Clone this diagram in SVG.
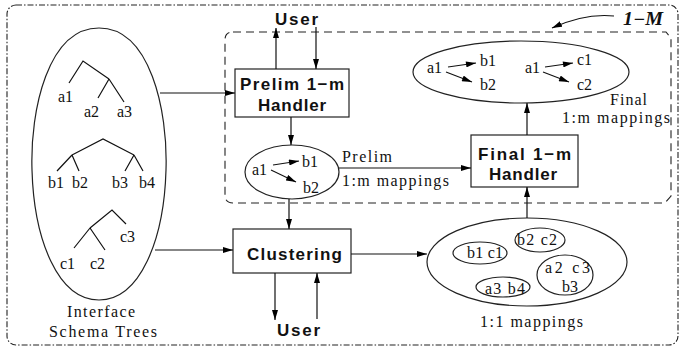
<svg xmlns="http://www.w3.org/2000/svg" width="681" height="348" viewBox="0 0 681 348">
  <defs>
    <marker id="arrow" viewBox="0 0 10 6" refX="10" refY="3" markerWidth="10" markerHeight="6" markerUnits="userSpaceOnUse" orient="auto">
      <path d="M0,0 L10,3 L0,6 z" fill="#000"/>
    </marker>
    <marker id="arrow-small" viewBox="0 0 10 6" refX="10" refY="3" markerWidth="11" markerHeight="6" markerUnits="userSpaceOnUse" orient="auto">
      <path d="M0,0 L10,3 L0,6 z" fill="#000"/>
    </marker>
  </defs>
  <style>
    .frame { fill: none; stroke: #222; stroke-width: 1.1; stroke-dasharray: 6 2 1.5 2; }
    .group { fill: none; stroke: #222; stroke-width: 1.1; stroke-dasharray: 8 5; }
    .box { fill: #fff; stroke: #222; stroke-width: 1.2; }
    .oval { fill: none; stroke: #222; stroke-width: 1.2; }
    .tree { fill: none; stroke: #111; stroke-width: 1.2; }
    .edge { fill: none; stroke: #111; stroke-width: 1.2; marker-end: url(#arrow); }
    .map { fill: none; stroke: #111; stroke-width: 1.1; marker-end: url(#arrow-small); }
    .lbl { font-family: 'Liberation Serif', 'DejaVu Serif', serif; font-size: 16px; fill: #111; }
    .bold { font-family: 'Liberation Sans', Arial, sans-serif; font-weight: bold; font-size: 17px; fill: #111; }
    .title { font-family: 'Liberation Serif', 'DejaVu Serif', serif; font-weight: bold; font-style: italic; font-size: 18px; fill: #111; }
  </style>
  <rect width="681" height="348" fill="#fff"/>

  <!-- outer frame and 1-M region -->
  <rect class="frame" x="7" y="5" width="671" height="340" rx="9"/>
  <path class="group" d="M233,32 H666 L671,38 V196 L665,203 H233 Q225,203 225,195 V40 Q225,32 233,32 Z"/>
  <g id="label-1M">
    <text class="title" x="623" y="25" textLength="40" lengthAdjust="spacingAndGlyphs">1−M</text>
    <path class="edge" d="M614,16 Q585,13 552,28"/>
  </g>

  <!-- schema trees -->
  <g id="schema-trees">
    <path class="oval" d="M99,28 C150,28 168,110 166,170 C164,240 140,300 99,300 C58,300 34,240 32,170 C30,110 48,28 99,28 Z"/>
    <path class="tree" d="M69,83 L83,61 L109,79 M109,79 L98,98 M109,79 L124,102"/>
    <text class="lbl" x="58" y="102">a1</text>
    <text class="lbl" x="84" y="117">a2</text>
    <text class="lbl" x="117" y="117">a3</text>
    <path class="tree" d="M72,155 L103,139 L134,155 M72,155 L57,171 M72,155 L79,171 M134,155 L125,171 M134,155 L143,171"/>
    <text class="lbl" x="48" y="188">b1</text>
    <text class="lbl" x="72" y="188">b2</text>
    <text class="lbl" x="112" y="188">b3</text>
    <text class="lbl" x="139" y="188">b4</text>
    <path class="tree" d="M90,228 L112,210 L126,224 M90,228 L74,248 M90,228 L105,250"/>
    <text class="lbl" x="120" y="242">c3</text>
    <text class="lbl" x="60" y="269">c1</text>
    <text class="lbl" x="90" y="269">c2</text>
    <text class="lbl" x="67" y="317" textLength="68" lengthAdjust="spacing">Interface</text>
    <text class="lbl" x="49" y="337" textLength="108" lengthAdjust="spacing">Schema Trees</text>
  </g>

  <!-- user, top -->
  <g id="user-top">
    <text class="bold" x="275" y="25" textLength="43" lengthAdjust="spacing">User</text>
  </g>

  <!-- prelim 1-m handler -->
  <g id="prelim-handler">
    <rect class="box" x="235" y="69" width="114" height="48"/>
    <text class="bold" x="240" y="90" textLength="104" lengthAdjust="spacing">Prelim 1−m</text>
    <text class="bold" x="258" y="111" textLength="68" lengthAdjust="spacing">Handler</text>
  </g>

  <!-- prelim 1:m mappings -->
  <g id="prelim-mappings">
    <ellipse class="oval" cx="292" cy="172" rx="47" ry="27"/>
    <text class="lbl" x="252" y="175">a1</text>
    <text class="lbl" x="302" y="167">b1</text>
    <text class="lbl" x="303" y="193">b2</text>
    <path class="map" d="M273,165 L299,161"/>
    <path class="map" d="M271,170 L296,182"/>
    <text class="lbl" x="342" y="162" textLength="50" lengthAdjust="spacing">Prelim</text>
    <text class="lbl" x="342" y="186" textLength="107" lengthAdjust="spacing">1:m mappings</text>
  </g>

  <!-- final 1-m handler -->
  <g id="final-handler">
    <rect class="box" x="471" y="135" width="107" height="52"/>
    <text class="bold" x="478" y="160" textLength="93" lengthAdjust="spacing">Final 1−m</text>
    <text class="bold" x="489" y="180" textLength="68" lengthAdjust="spacing">Handler</text>
  </g>

  <!-- final 1:m mappings -->
  <g id="final-mappings">
    <ellipse class="oval" cx="521" cy="72" rx="108" ry="31"/>
    <text class="lbl" x="427" y="73">a1</text>
    <text class="lbl" x="480" y="66">b1</text>
    <text class="lbl" x="480" y="90">b2</text>
    <path class="map" d="M448,67 L476,63"/>
    <path class="map" d="M446,72 L472,82"/>
    <text class="lbl" x="525" y="73">a1</text>
    <text class="lbl" x="577" y="65">c1</text>
    <text class="lbl" x="577" y="90">c2</text>
    <path class="map" d="M545,67 L573,63"/>
    <path class="map" d="M543,72 L569,82"/>
    <text class="lbl" x="610" y="105" textLength="37" lengthAdjust="spacing">Final</text>
    <text class="lbl" x="562" y="123" textLength="108" lengthAdjust="spacing">1:m mappings</text>
  </g>

  <!-- clustering -->
  <g id="clustering">
    <rect class="box" x="233" y="229" width="118" height="44"/>
    <text class="bold" x="247" y="260" textLength="95" lengthAdjust="spacing">Clustering</text>
  </g>

  <!-- user, bottom -->
  <g id="user-bottom">
    <text class="bold" x="277" y="336" textLength="43" lengthAdjust="spacing">User</text>
  </g>

  <!-- 1:1 mappings -->
  <g id="one-one-mappings">
    <ellipse class="oval" cx="527" cy="262" rx="100" ry="44"/>
    <ellipse class="oval" cx="480" cy="253" rx="27" ry="11"/>
    <text class="lbl" x="467" y="258" textLength="36" lengthAdjust="spacing">b1 c1</text>
    <ellipse class="oval" cx="540" cy="240" rx="25" ry="12"/>
    <text class="lbl" x="517" y="245" textLength="40" lengthAdjust="spacing">b2 c2</text>
    <ellipse class="oval" cx="565" cy="275" rx="28" ry="20"/>
    <text class="lbl" x="545" y="273" textLength="45" lengthAdjust="spacing">a2 c3</text>
    <text class="lbl" x="562" y="292">b3</text>
    <ellipse class="oval" cx="503" cy="287" rx="27" ry="10"/>
    <text class="lbl" x="485" y="294" textLength="40" lengthAdjust="spacing">a3 b4</text>
    <text class="lbl" x="480" y="327" textLength="103" lengthAdjust="spacing">1:1 mappings</text>
  </g>

  <!-- connectors -->
  <g id="connectors">
    <path class="edge" d="M160,93 H235"/>
    <path class="edge" d="M155,250 H233"/>
    <path class="edge" d="M276,69 V28"/>
    <path class="edge" d="M316,27 V69"/>
    <path class="edge" d="M291,117 V145"/>
    <path class="edge" d="M289,199 V229"/>
    <path class="edge" d="M339,168 H471"/>
    <path class="edge" d="M527,135 V103"/>
    <path class="edge" d="M275,273 V320"/>
    <path class="edge" d="M317,319 V273"/>
    <path class="edge" d="M351,254 H427"/>
    <path class="edge" d="M527,218 V187"/>
  </g>
</svg>
